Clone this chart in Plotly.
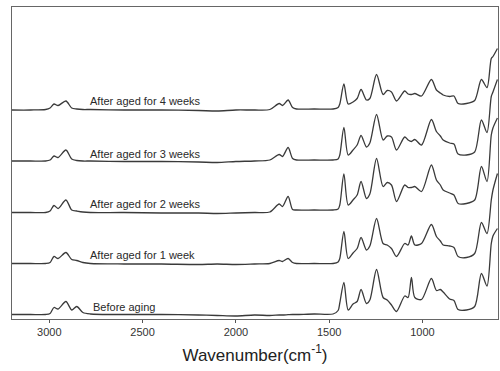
import plotly.graph_objects as go

# Wavenumber grid (cm^-1)
wavenumber = [3200, 3100, 3020, 2996, 2975, 2953, 2911, 2880, 2853, 2820, 2780, 2600, 2400, 2200,
              2100, 2000, 1900, 1818, 1768, 1750, 1720, 1696, 1675, 1580, 1479, 1452, 1443, 1421,
              1398, 1372, 1350, 1329, 1300, 1282, 1246, 1211, 1189, 1166, 1139, 1095, 1077, 1059,
              1041, 1005, 952, 925, 904, 889, 854, 831, 809, 764, 720, 684, 654, 631, 622, 598]

# Absorbance (stacked, arbitrary units)
aged_4w = [2.09, 2.09, 2.095, 2.11, 2.15, 2.135, 2.18, 2.11, 2.10, 2.095, 2.095, 2.09, 2.09, 2.085,
           2.08, 2.09, 2.09, 2.095, 2.155, 2.135, 2.19, 2.115, 2.10, 2.10, 2.10, 2.115, 2.15, 2.35,
           2.15, 2.17, 2.205, 2.295, 2.19, 2.205, 2.445, 2.245, 2.285, 2.27, 2.18, 2.28, 2.25, 2.245,
           2.255, 2.23, 2.395, 2.29, 2.26, 2.24, 2.225, 2.23, 2.155, 2.155, 2.185, 2.395, 2.315,
           2.605, 2.625, 2.705]
aged_3w = [1.58, 1.58, 1.58, 1.59, 1.63, 1.615, 1.69, 1.60, 1.585, 1.58, 1.58, 1.575, 1.575, 1.57,
           1.565, 1.575, 1.58, 1.59, 1.645, 1.625, 1.715, 1.605, 1.59, 1.59, 1.59, 1.60, 1.64, 1.915,
           1.64, 1.69, 1.74, 1.835, 1.72, 1.76, 2.045, 1.79, 1.83, 1.82, 1.69, 1.82, 1.79, 1.775,
           1.795, 1.74, 1.995, 1.875, 1.83, 1.79, 1.76, 1.75, 1.65, 1.64, 1.67, 1.99, 1.865,
           2.225, 2.27, 2.395]
aged_2w = [1.065, 1.065, 1.065, 1.08, 1.135, 1.105, 1.19, 1.09, 1.08, 1.07, 1.065, 1.065, 1.06, 1.06,
           1.055, 1.06, 1.065, 1.07, 1.15, 1.125, 1.225, 1.095, 1.09, 1.09, 1.09, 1.10, 1.14, 1.45,
           1.14, 1.19, 1.24, 1.375, 1.205, 1.25, 1.605, 1.325, 1.365, 1.34, 1.175, 1.34, 1.315, 1.315,
           1.325, 1.275, 1.54, 1.39, 1.34, 1.29, 1.26, 1.24, 1.155, 1.155, 1.19, 1.525, 1.375,
           1.84, 1.91, 2.01]
aged_1w = [0.555, 0.555, 0.555, 0.565, 0.625, 0.605, 0.665, 0.595, 0.585, 0.565, 0.555, 0.55, 0.55, 0.545,
           0.55, 0.545, 0.55, 0.555, 0.585, 0.575, 0.605, 0.565, 0.555, 0.555, 0.555, 0.57, 0.605, 0.875,
           0.605, 0.66, 0.705, 0.815, 0.69, 0.73, 1.005, 0.755, 0.74, 0.705, 0.625, 0.755, 0.74, 0.83,
           0.74, 0.755, 0.945, 0.825, 0.78, 0.74, 0.73, 0.715, 0.625, 0.615, 0.655, 0.965, 0.855,
           1.19, 1.29, 1.455]
before = [0.045, 0.045, 0.045, 0.055, 0.115, 0.10, 0.175, 0.09, 0.125, 0.065, 0.05, 0.045, 0.045, 0.04,
          0.035, 0.03, 0.04, 0.035, 0.04, 0.04, 0.043, 0.045, 0.045, 0.05, 0.05, 0.085, 0.16, 0.365,
          0.09, 0.15, 0.175, 0.295, 0.155, 0.19, 0.495, 0.215, 0.19, 0.14, 0.075, 0.23, 0.215, 0.415,
          0.215, 0.195, 0.405, 0.285, 0.295, 0.27, 0.20, 0.185, 0.095, 0.09, 0.125, 0.455, 0.33,
          0.755, 0.83, 0.905]

series = [
    ("After aged for 4 weeks", aged_4w, 2.18),
    ("After aged for 3 weeks", aged_3w, 1.65),
    ("After aged for 2 weeks", aged_2w, 1.15),
    ("After aged for 1 week", aged_1w, 0.64),
    ("Before aging", before, 0.125),
]

fig = go.Figure()
for name, vals, _ in series:
    fig.add_trace(go.Scatter(x=wavenumber, y=vals, mode="lines", name=name,
                             line=dict(color="#3a3a3a", width=1.3, shape="spline", smoothing=0.8),
                             showlegend=False, hoverinfo="skip"))

for name, _, ly in series:
    fig.add_annotation(x=2790 if name != "Before aging" else 2775, y=ly, text=name,
                       xanchor="left", yanchor="middle", showarrow=False,
                       font=dict(family="Liberation Sans, Arial, sans-serif", size=11, color="#2a2a2a"))

fig.update_layout(
    width=500, height=371,
    margin=dict(l=12, r=2, t=7, b=52, autoexpand=False),
    paper_bgcolor="white", plot_bgcolor="white",
    font=dict(family="Liberation Sans, Arial, sans-serif", color="#333"),
)
fig.update_xaxes(range=[3200, 595], tickvals=[3000, 2500, 2000, 1500, 1000],
                 ticks="outside", ticklen=3, tickcolor="#555", showgrid=False, zeroline=False,
                 showline=True, mirror=True, linecolor="#666", linewidth=1,
                 tickfont=dict(size=11, color="#333"), automargin=False,
                 title=dict(text="Wavenumber(cm<sup>-1</sup>)", font=dict(size=17, color="#222"), standoff=11))
fig.update_yaxes(range=[0, 3.12], showticklabels=False, ticks="", showgrid=False, zeroline=False,
                 showline=True, mirror=True, linecolor="#666", linewidth=1, automargin=False)

fig.write_html("out.html", config={"displayModeBar": False},
               post_script="document.body.style.margin='0';document.body.style.overflow='hidden';")
